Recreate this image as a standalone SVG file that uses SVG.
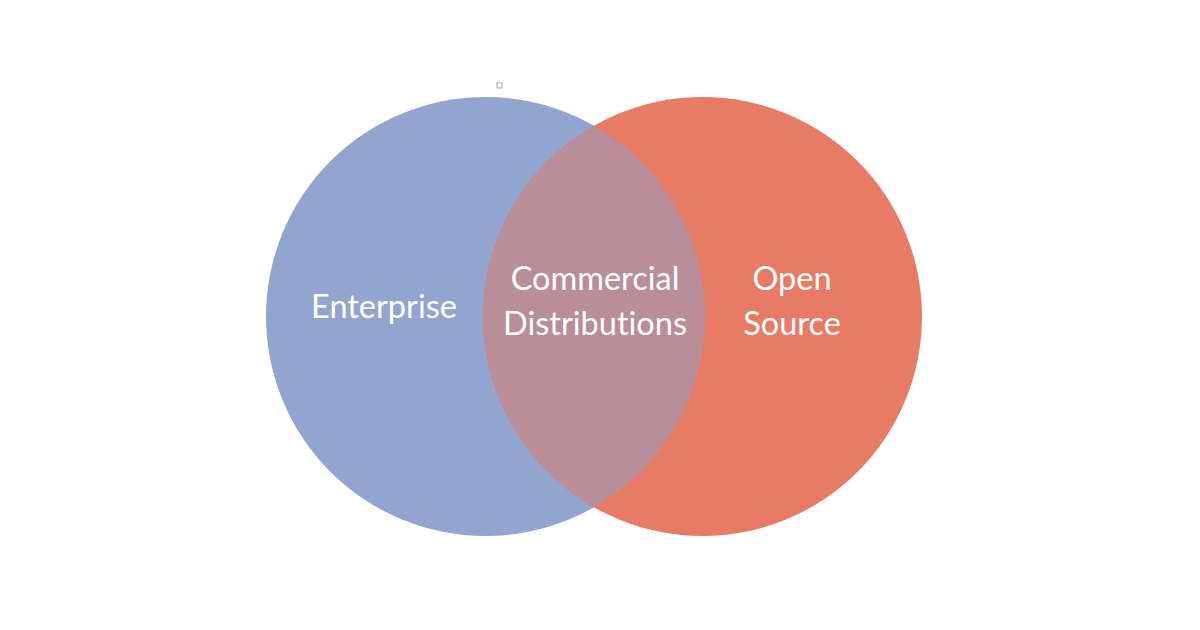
<svg xmlns="http://www.w3.org/2000/svg" width="1200" height="630" viewBox="0 0 1200 630">
<style>
.lbl{font-family:Lato,"Open Sans","Liberation Sans",sans-serif;font-size:32.5px;fill:#ffffff;text-anchor:middle;font-variant-ligatures:none}
</style>
<rect width="1200" height="630" fill="#ffffff"/>
<rect x="497" y="83" width="5" height="5" fill="none" stroke="#aaaaaa" stroke-width="1"/>
<g id="enterprise">
<circle cx="485.5" cy="316.5" r="219.5" fill="#92A5D1"/>
<text class="lbl" x="384" y="318">Enterprise</text>
</g>
<g id="open-source">
<circle cx="702.5" cy="316.5" r="219.5" fill="#E77B64"/>
<text class="lbl" x="792" y="290">Open</text>
<text class="lbl" x="792" y="335">Source</text>
</g>
<g id="commercial">
<path d="M594,125.7 A219.5,219.5 0 0 1 594,507.3 A219.5,219.5 0 0 1 594,125.7 Z" fill="#B98E99"/>
<text class="lbl" x="595" y="290">Commercial</text>
<text class="lbl" x="595" y="335">Distributions</text>
</g>
<g id="connectors"></g>
</svg>
